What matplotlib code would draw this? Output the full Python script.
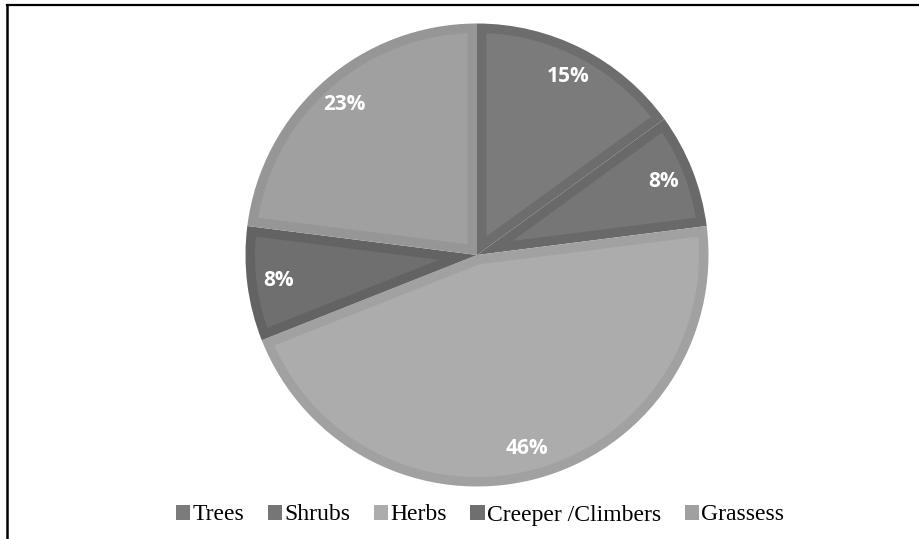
import matplotlib
matplotlib.use("Agg")
import numpy as np
import matplotlib.pyplot as plt
from matplotlib.lines import Line2D
from matplotlib.patches import Polygon

# Plant habit composition (percent of species)
categories = ["Trees", "Shrubs", "Herbs", "Creeper /Climbers", "Grassess"]
shares = [15, 8, 46, 8, 23]

fill_colors = ["#7b7b7b", "#767676", "#acacac", "#6f6f6f", "#a0a0a0"]
rim_colors = ["#6d6d6d", "#696969", "#a1a1a1", "#636363", "#969696"]

W, H = 919, 539
DPI = 100
fig = plt.figure(figsize=(W / DPI, H / DPI), dpi=DPI)
fig.patch.set_facecolor("white")

# Square axes holding the pie (pixel geometry of the plot area)
cx, cy, r = 477, 255, 231.5
ax = fig.add_axes([(cx - r) / W, (H - cy - r) / H, 2 * r / W, 2 * r / H])

# Base pie in the rim colours
wedges, texts, autotexts = ax.pie(
    shares,
    colors=rim_colors,
    startangle=90,
    counterclock=False,
    radius=1.0,
    autopct="%.0f%%",
    pctdistance=0.865,
    wedgeprops=dict(linewidth=0),
    textprops=dict(color="white", fontsize=15, fontweight="bold",
                   family=["Open Sans", "DejaVu Sans"]),
)
ax.set_xlim(-1, 1)
ax.set_ylim(-1, 1)
ax.set_aspect("equal")
ax.axis("off")


def inset_sector(theta1, theta2, radius, t, n=80):
    """Sector shrunk inward by distance t on all sides."""
    a1, a2 = np.radians(theta1), np.radians(theta2)
    half = (a2 - a1) / 2
    mid = (a1 + a2) / 2
    apex = (t / np.sin(half)) * np.array([np.cos(mid), np.sin(mid)])
    R = radius - t
    d = np.arcsin(t / R)
    arc = np.linspace(a1 + d, a2 - d, n)
    pts = np.column_stack([R * np.cos(arc), R * np.sin(arc)])
    return np.vstack([apex, pts])


# Lighter inner face of each slice, leaving a bevelled rim
rim = 9.5 / r
for w, fc in zip(wedges, fill_colors):
    poly = Polygon(inset_sector(w.theta1, w.theta2, 1.0, rim),
                   closed=True, facecolor=fc, edgecolor="none", zorder=2)
    ax.add_patch(poly)

for t in autotexts:
    t.set_zorder(5)

# Legend along the bottom
handles = [plt.Rectangle((0, 0), 1, 1, facecolor=c, edgecolor="none")
           for c in fill_colors]
leg = fig.legend(
    handles, categories,
    loc="center",
    bbox_to_anchor=(480 / W, 1 - 515 / H),
    ncol=5,
    frameon=False,
    prop=dict(family="Liberation Serif", size=17),
    handlelength=0.6,
    handleheight=0.6,
    handletextpad=0.1,
    columnspacing=1.0,
    borderpad=0,
)

# Partial frame: top and left edges
fig.add_artist(Line2D([6.5 / W, 918 / W], [1 - 4.5 / H, 1 - 4.5 / H],
                      transform=fig.transFigure, color="black", linewidth=1.6))
fig.add_artist(Line2D([7 / W, 7 / W], [0, 1 - 4.5 / H],
                      transform=fig.transFigure, color="black", linewidth=1.8))

fig.savefig("out.png", dpi=DPI, facecolor="white")
